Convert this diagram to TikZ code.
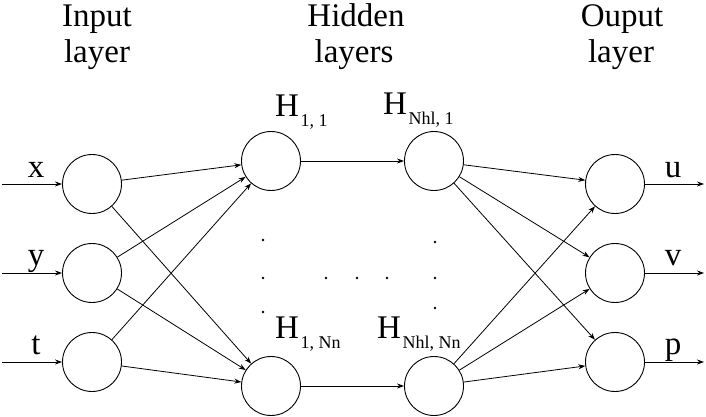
\documentclass[tikz,border=0pt]{standalone}
\usepackage{fontspec}
\setmainfont{Liberation Serif}
\usetikzlibrary{arrows.meta}
\newcommand\Hlab[1]{H\kern1.5pt\raisebox{-10pt}{\fontsize{18}{20}\selectfont #1}}
\begin{document}
\begin{tikzpicture}[x=1pt,y=-1pt,
 neuron/.style={circle,draw,line width=0.9pt,minimum size=59pt,inner sep=0pt},
 big/.style={font=\fontsize{33}{36}\selectfont,inner sep=0pt},
 conn/.style={line width=0.8pt,-{Stealth[length=7pt,width=5pt]}},
 dotn/.style={circle,fill,inner sep=0pt,minimum size=2.6pt}]
\path[use as bounding box] (0,0) rectangle (706,417);
% titles
\node[big,anchor=base] (t1a) at (97,27) {Input};
\node[big,anchor=base] (t1b) at (97,63) {layer};
\node[big,anchor=base] (t2a) at (356,27) {Hidden};
\node[big,anchor=base] (t2b) at (354,63) {layers};
\node[big,anchor=base] (t3a) at (622,27) {Ouput};
\node[big,anchor=base] (t3b) at (621,63) {layer};
% neurons
\node[neuron] (i1) at (92,184) {};
\node[neuron] (i2) at (92,273) {};
\node[neuron] (i3) at (92,362) {};
\node[neuron] (h11) at (271,161) {};
\node[neuron] (hn1) at (434,161) {};
\node[neuron] (h1n) at (271,386) {};
\node[neuron] (hnn) at (434,386) {};
\node[neuron] (o1) at (615,184) {};
\node[neuron] (o2) at (615,273) {};
\node[neuron] (o3) at (615,362) {};
% hidden labels
\node[big,anchor=base west] (l11) at (275,117) {\Hlab{1, 1}};
\node[big,anchor=base west] (ln1) at (383,114) {\Hlab{Nhl, 1}};
\node[big,anchor=base west] (l1n) at (275,338) {\Hlab{1, Nn}};
\node[big,anchor=base west] (lnn) at (377,338) {\Hlab{Nhl, Nn}};
% input/output labels
\node[big,anchor=base] (lx) at (36,177) {x};
\node[big,anchor=base] (ly) at (36,265) {y};
\node[big,anchor=base] (lt) at (36,354) {t};
\node[big,anchor=base] (lu) at (673,177) {u};
\node[big,anchor=base] (lv) at (673,265) {v};
\node[big,anchor=base] (lp) at (673,354) {p};
% dots
\node[dotn] (d1) at (263,240) {};
\node[dotn] (d2) at (263,278) {};
\node[dotn] (d3) at (263,312) {};
\node[dotn] (d4) at (326,278) {};
\node[dotn] (d5) at (357,278) {};
\node[dotn] (d6) at (387,278) {};
\node[dotn] (d7) at (435,242) {};
\node[dotn] (d8) at (435,278) {};
\node[dotn] (d9) at (435,308) {};
% in/out arrows
\coordinate (xin) at (2,184);
\coordinate (yin) at (2,273);
\coordinate (tin) at (2,362);
\coordinate (uout) at (704,184);
\coordinate (vout) at (704,273);
\coordinate (pout) at (704,362);
\draw[conn] (xin) -- (i1);
\draw[conn] (yin) -- (i2);
\draw[conn] (tin) -- (i3);
\draw[conn] (o1) -- (uout);
\draw[conn] (o2) -- (vout);
\draw[conn] (o3) -- (pout);
% input to hidden
\foreach \a in {i1,i2,i3}{
  \draw[conn] (\a) -- (h11);
  \draw[conn] (\a) -- (h1n);
}
\draw[conn] (h11) -- (hn1);
\draw[conn] (h1n) -- (hnn);
\foreach \b in {o1,o2,o3}{
  \draw[conn] (hn1) -- (\b);
  \draw[conn] (hnn) -- (\b);
}
\end{tikzpicture}
\end{document}
